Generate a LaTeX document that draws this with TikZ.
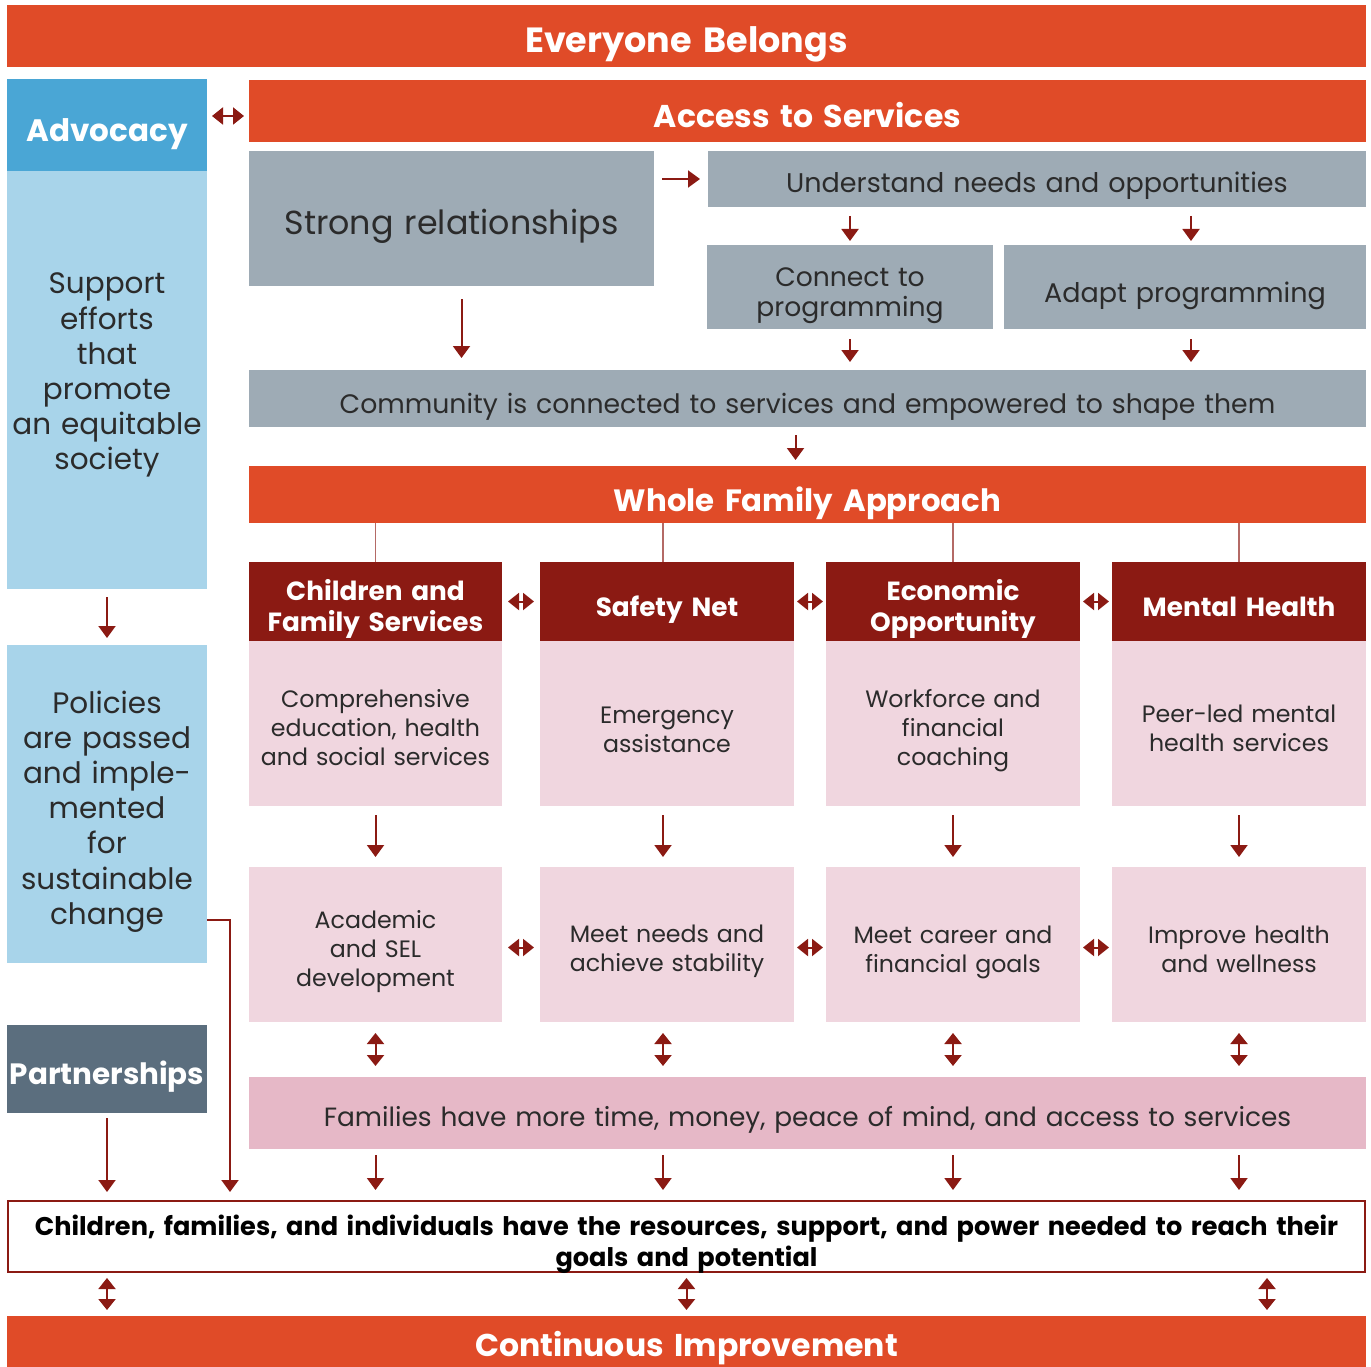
\documentclass[tikz,border=0pt]{standalone}
\usepackage{fontspec}
\setmainfont{Poppins}
\usetikzlibrary{arrows.meta}
\definecolor{orng}{HTML}{E04B28}
\definecolor{advb}{HTML}{4AA6D5}
\definecolor{lblue}{HTML}{A8D4EA}
\definecolor{slate}{HTML}{5B6E7E}
\definecolor{gbox}{HTML}{9EABB5}
\definecolor{dred}{HTML}{8B1A13}
\definecolor{pnk}{HTML}{F0D6DF}
\definecolor{pnk2}{HTML}{E6B8C7}
\definecolor{txt}{HTML}{2B2B2B}
\newcommand\fs[2]{\fontsize{#1pt}{#2pt}\selectfont}
\begin{document}
\begin{tikzpicture}[x=1pt,y=-1pt,
  box/.style={anchor=north west, inner sep=0pt, outer sep=0pt, align=center, text=txt},
  wh/.style 2 args={minimum width=#1pt, minimum height=#2pt, text width=#1pt-8pt},
  bl/.style={text height=#1pt, text depth=0pt},
  bn/.style={text height=0pt, text depth=#1pt},
  banner/.style={box, fill=orng, text=white, font=\bfseries\fs{31.5}{36}},
  gray/.style={box, fill=gbox, font=\fs{27}{31}},
  colh/.style={box, fill=dred, text=white, font=\bfseries\fs{26.3}{31.5}},
  colb/.style={box, fill=pnk, text=txt, font=\fs{23.7}{29}},
  lbl/.style={box, fill=lblue, font=\fs{29.5}{35.2}, text width=200pt},
  arr/.style={draw=dred, line width=2pt, -{Triangle[length=12pt,width=17pt]}},
  darr/.style={draw=dred, line width=2pt, {Triangle[length=11pt,width=17pt]}-{Triangle[length=11pt,width=17pt]}},
  thin/.style={draw=dred!65, line width=1.6pt}]
\useasboundingbox (0,0) rectangle (1371,1367);
% top banner
\node[banner, font=\bfseries\fs{35}{40}, wh={1359}{62}, bl=34] (eb) at (7,5) {Everyone Belongs};
% advocacy column
\node[box, fill=advb, text=white, font=\bfseries\fs{31}{36}, wh={200}{92}, text width=200pt, bl=34] (advh) at (7,79) {Advocacy};
\node[lbl, wh={200}{418}, text width=200pt, bn=172] (advb) at (7,171) {Support\\efforts\\that\\promote\\an equitable\\society};
\node[lbl, wh={200}{318}, text width=200pt, bn=182] (pol) at (7,645) {Policies\\are passed\\and imple-\\mented\\for\\sustainable\\change};
\node[box, fill=slate, text=white, font=\bfseries\fs{29.4}{34}, wh={200}{88}, text width=200pt, bl=30] (par) at (7,1025) {Partnerships};
% access to services
\node[banner, wh={1117}{62}, bl=34] (acc) at (249,80) {Access to Services};
\node[gray, font=\fs{33.3}{38}, wh={405}{135}, bl=33] (str) at (249,151) {Strong relationships};
\node[gray, wh={658}{56}, bl=28] (und) at (708,151) {Understand needs and opportunities};
\node[gray, font=\fs{26.6}{31}, wh={286}{84}, bn=2] (con) at (707,245) {Connect to\\programming};
\node[gray, wh={362}{84}, bl=30] (adp) at (1004,245) {Adapt programming};
\node[gray, font=\fs{26.7}{31}, wh={1117}{57}, bl=29] (com) at (249,370) {Community is connected to services and empowered to shape them};
\coordinate (adpn) at ([xshift=6pt]adp.north);
\coordinate (adps) at ([xshift=6pt]adp.south);
% whole family approach
\node[banner, font=\bfseries\fs{30.8}{36}, wh={1117}{57}, bl=33] (wfa) at (249,466) {Whole Family Approach};
\node[colh, wh={253}{79}, bn=3] (h1) at (249,562) {Children and\\Family Services};
\node[colh, wh={254}{79}, bl=29] (h2) at (540,562) {Safety Net};
\node[colh, wh={254}{79}, bn=3] (h3) at (826,562) {Economic\\Opportunity};
\node[colh, wh={254}{79}, bl=29] (h4) at (1112,562) {Mental Health};
\node[colb, wh={253}{165}, bn=33] (b1) at (249,641) {Comprehensive\\education, health\\and social services};
\node[colb, wh={254}{165}, bn=1] (b2) at (540,641) {Emergency\\assistance};
\node[colb, wh={254}{165}, bn=33] (b3) at (826,641) {Workforce and\\financial\\coaching};
\node[colb, wh={254}{165}, bn=3] (b4) at (1112,641) {Peer-led mental\\health services};
\node[colb, wh={253}{155}, bn=33] (r1) at (249,867) {Academic\\and SEL\\development};
\node[colb, wh={254}{155}, bn=5] (r2) at (540,867) {Meet needs and\\achieve stability};
\node[colb, wh={254}{155}, bn=3] (r3) at (826,867) {Meet career and\\financial goals};
\node[colb, wh={254}{155}, bn=3] (r4) at (1112,867) {Improve health\\and wellness};
\node[box, fill=pnk2, font=\fs{26.4}{31}, wh={1117}{72}, bl=26] (fam) at (249,1077) {Families have more time, money, peace of mind, and access to services};
\node[box, draw=dred, line width=1.2pt, fill=white, text=black, font=\bfseries\fs{25.6}{31}, wh={1357}{71}, text width=1357pt, bn=3] (out) at (8,1201) {Children, families, and individuals have the resources, support, and power needed to reach their\\goals and potential};
\node[banner, wh={1359}{51}, bl=30] (ci) at (7,1316) {Continuous Improvement};
\coordinate (outr) at ([xshift=-98pt]out.south east);
\coordinate (c2) at ([xshift=-4pt]h2.north);
% connectors: advocacy
\draw[darr, shorten <=5pt, shorten >=5pt] ([yshift=9pt]advh.east) -- ([yshift=-5pt]acc.west);
\draw[arr, shorten <=8pt, shorten >=7pt] (advb.south) -- (pol.north);
\draw[arr, shorten <=5pt, shorten >=9pt] (par.south) -- (par.south |- out.north);
\draw[arr, shorten >=9pt] ([yshift=43pt]pol.south east) -| ([xshift=23pt]pol.south east |- out.north);
% connectors: access
\draw[arr, shorten <=8pt, shorten >=8pt] (str.east |- und.west) -- (und.west);
\draw[arr, shorten <=9pt, shorten >=4pt] (und.south -| con.north) -- (con.north);
\draw[arr, shorten <=9pt, shorten >=4pt] (und.south -| adpn) -- (adpn);
\draw[arr, shorten <=10pt, shorten >=8pt] (con.south) -- (con.south |- com.north);
\draw[arr, shorten <=10pt, shorten >=8pt] (adps) -- (adps |- com.north);
\draw[arr, shorten <=13pt, shorten >=12pt] ([xshift=10pt]str.south) -- ([xshift=10pt]str.south |- com.north);
\draw[arr, shorten <=8pt, shorten >=6pt] ([xshift=-12pt]com.south) -- ([xshift=-12pt]com.south |- wfa.north);
% whole family
\foreach \i in {1,3,4}{
  \draw[thin] (wfa.south -| h\i.north) -- (h\i.north);
  \draw[arr, shorten <=9pt, shorten >=10pt] (b\i.south) -- (r\i.north);
  \draw[darr, shorten <=11pt, shorten >=11pt] (r\i.south) -- (fam.north -| r\i.south);
  \draw[arr, shorten <=6pt, shorten >=11pt] (fam.south -| r\i.south) -- (out.north -| r\i.south);
}
\draw[thin] (wfa.south -| c2) -- (c2);
\draw[arr, shorten <=9pt, shorten >=10pt] (b2.south -| c2) -- (r2.north -| c2);
\draw[darr, shorten <=11pt, shorten >=11pt] (r2.south -| c2) -- (fam.north -| c2);
\draw[arr, shorten <=6pt, shorten >=11pt] (fam.south -| c2) -- (out.north -| c2);
\draw[darr, shorten <=6pt, shorten >=6pt] (h1.east) -- (h2.west);
\draw[darr, shorten <=3pt, shorten >=3pt] (h2.east) -- (h3.west);
\draw[darr, shorten <=3pt, shorten >=3pt] (h3.east) -- (h4.west);
\draw[darr, shorten <=6pt, shorten >=6pt] ([yshift=-3pt]r1.east) -- ([yshift=-3pt]r2.west);
\draw[darr, shorten <=3pt, shorten >=3pt] ([yshift=-3pt]r2.east) -- ([yshift=-3pt]r3.west);
\draw[darr, shorten <=3pt, shorten >=3pt] ([yshift=-3pt]r3.east) -- ([yshift=-3pt]r4.west);
% outcome to continuous improvement
\draw[darr, shorten <=6pt, shorten >=6pt] (out.south -| pol.south) -- (ci.north -| pol.south);
\draw[darr, shorten <=6pt, shorten >=6pt] (out.south) -- (ci.north -| out.south);
\draw[darr, shorten <=6pt, shorten >=6pt] (outr) -- (outr |- ci.north);
\end{tikzpicture}
\end{document}
